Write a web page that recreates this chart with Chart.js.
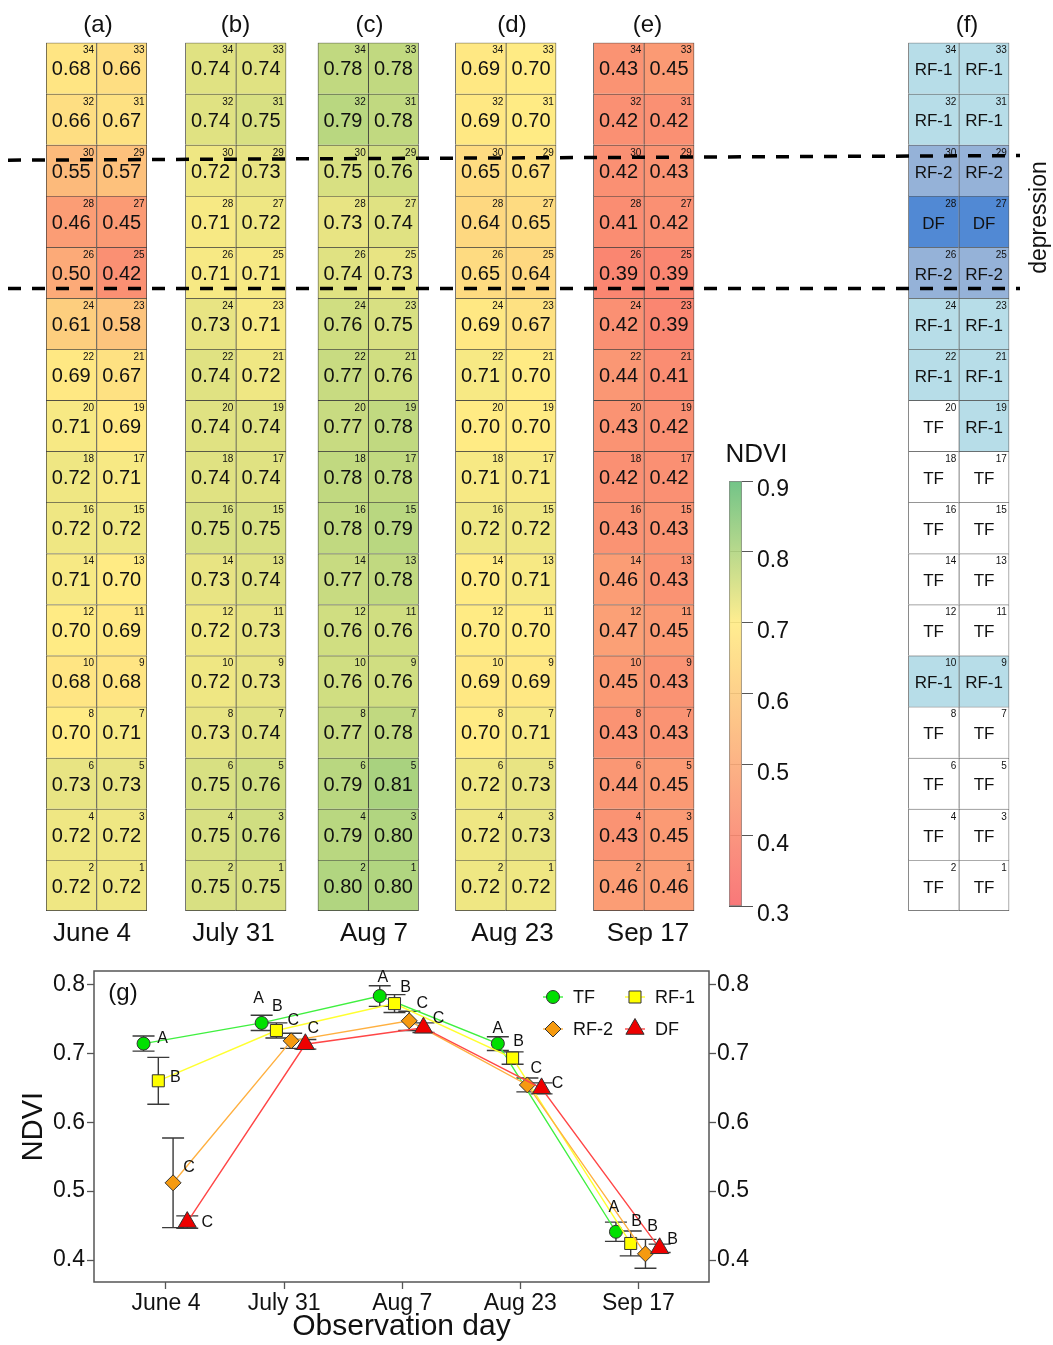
<!DOCTYPE html>
<html lang="en">
<head>
<meta charset="utf-8">
<title>NDVI by plot and observation day</title>
<script src="https://cdn.jsdelivr.net/npm/chart.js@4.4.1/dist/chart.umd.min.js"></script>
<style>
  html, body { margin: 0; padding: 0; background: #fff; }
  #figure { position: relative; width: 1053px; height: 1345px; overflow: hidden; background: #fff; }
  #figure canvas { position: absolute; }
</style>
</head>
<body>
<div id="figure"></div>
<script>
// ---------------- data ----------------
const days = ['June 4', 'July 31', 'Aug 7', 'Aug 23', 'Sep 17'];
const panelTags = ['(a)', '(b)', '(c)', '(d)', '(e)', '(f)'];
const plotNoLeft  = [34, 32, 30, 28, 26, 24, 22, 20, 18, 16, 14, 12, 10, 8, 6, 4, 2];
const plotNoRight = [33, 31, 29, 27, 25, 23, 21, 19, 17, 15, 13, 11, 9, 7, 5, 3, 1];

// NDVI per plot, rows from plots 34/33 (top) down to 2/1 (bottom), [left, right]
const ndviJune4  = [[0.68,0.66],[0.66,0.67],[0.55,0.57],[0.46,0.45],[0.50,0.42],[0.61,0.58],[0.69,0.67],[0.71,0.69],[0.72,0.71],[0.72,0.72],[0.71,0.70],[0.70,0.69],[0.68,0.68],[0.70,0.71],[0.73,0.73],[0.72,0.72],[0.72,0.72]];
const ndviJuly31 = [[0.74,0.74],[0.74,0.75],[0.72,0.73],[0.71,0.72],[0.71,0.71],[0.73,0.71],[0.74,0.72],[0.74,0.74],[0.74,0.74],[0.75,0.75],[0.73,0.74],[0.72,0.73],[0.72,0.73],[0.73,0.74],[0.75,0.76],[0.75,0.76],[0.75,0.75]];
const ndviAug7   = [[0.78,0.78],[0.79,0.78],[0.75,0.76],[0.73,0.74],[0.74,0.73],[0.76,0.75],[0.77,0.76],[0.77,0.78],[0.78,0.78],[0.78,0.79],[0.77,0.78],[0.76,0.76],[0.76,0.76],[0.77,0.78],[0.79,0.81],[0.79,0.80],[0.80,0.80]];
const ndviAug23  = [[0.69,0.70],[0.69,0.70],[0.65,0.67],[0.64,0.65],[0.65,0.64],[0.69,0.67],[0.71,0.70],[0.70,0.70],[0.71,0.71],[0.72,0.72],[0.70,0.71],[0.70,0.70],[0.69,0.69],[0.70,0.71],[0.72,0.73],[0.72,0.73],[0.72,0.72]];
const ndviSep17  = [[0.43,0.45],[0.42,0.42],[0.42,0.43],[0.41,0.42],[0.39,0.39],[0.42,0.39],[0.44,0.41],[0.43,0.42],[0.42,0.42],[0.43,0.43],[0.46,0.43],[0.47,0.45],[0.45,0.43],[0.43,0.43],[0.44,0.45],[0.43,0.45],[0.46,0.46]];
const forestType = [['RF-1','RF-1'],['RF-1','RF-1'],['RF-2','RF-2'],['DF','DF'],['RF-2','RF-2'],['RF-1','RF-1'],['RF-1','RF-1'],['TF','RF-1'],['TF','TF'],['TF','TF'],['TF','TF'],['TF','TF'],['RF-1','RF-1'],['TF','TF'],['TF','TF'],['TF','TF'],['TF','TF']];

// depression edges in plot-row units from the bottom of the grid (left end, right end)
const depressionUpper = [14.70, 14.79];
const depressionLower = [12.19, 12.19];

const colorbarTicks = [0.3, 0.4, 0.5, 0.6, 0.7, 0.8, 0.9];

// (g) mean NDVI, error and significance group per forest type
const seriesNames = ['TF', 'RF-1', 'RF-2', 'DF'];
const meanTF  = [0.714, 0.744, 0.783, 0.714, 0.441];
const meanRF1 = [0.660, 0.733, 0.772, 0.693, 0.424];
const meanRF2 = [0.512, 0.718, 0.747, 0.654, 0.409];
const meanDF  = [0.455, 0.713, 0.737, 0.649, 0.417];
const errTF   = [0.011, 0.011, 0.015, 0.010, 0.014];
const errRF1  = [0.034, 0.011, 0.013, 0.009, 0.018];
const errRF2  = [0.065, 0.011, 0.014, 0.010, 0.021];
const errDF   = [0.009, 0.007, 0.007, 0.008, 0.006];
const groupTF  = ['A', 'A', 'A', 'A', 'A'];
const groupRF1 = ['B', 'B', 'B', 'B', 'B'];
const groupRF2 = ['C', 'C', 'C', 'C', 'B'];
const groupDF  = ['C', 'C', 'C', 'C', 'B'];

// ---------------- layout & style ----------------
const FONT = '"Liberation Sans", Arial, Helvetica, sans-serif';
Chart.defaults.font.family = FONT;
Chart.defaults.color = '#111';
Chart.defaults.animation = false;

const ROWS = plotNoLeft.length;
const GRID_TOP = 42.7, GRID_BOTTOM = 911, GRID_W = 101;
const panelLeft = [46, 185.3, 317.7, 455.3, 593.3, 908.3];
const tagX  = [98, 235.5, 369.5, 512, 647.5, 967];
const dateX = [92, 233.5, 374, 512.5, 648];
const typeColor = { 'TF': '#ffffff', 'RF-1': '#b7dde8', 'RF-2': '#95b2d8', 'DF': '#5189d4' };

const NDVI_STOPS = [[0.3, [248, 105, 107]], [0.7, [255, 235, 132]], [0.9, [99, 190, 123]]];
function ndviRGB(v) {
  v = Math.max(0.3, Math.min(0.9, v));
  for (let i = 0; i < NDVI_STOPS.length - 1; i++) {
    const [a, ca] = NDVI_STOPS[i], [b, cb] = NDVI_STOPS[i + 1];
    if (v <= b) {
      const t = (v - a) / (b - a);
      return ca.map((c, k) => Math.round(c + (cb[k] - c) * t));
    }
  }
  return NDVI_STOPS[NDVI_STOPS.length - 1][1];
}
const ndviColor = v => `rgb(${ndviRGB(v).join(',')})`;

const figure = document.getElementById('figure');
function addCanvas(left, top, w, h) {
  const c = document.createElement('canvas');
  c.width = w; c.height = h;
  c.style.left = left + 'px'; c.style.top = top + 'px';
  c.style.width = w + 'px'; c.style.height = h + 'px';
  figure.appendChild(c);
  return c;
}

// ---------------- plot grids (a)-(f) ----------------
const cellText = {
  id: 'cellText',
  afterDatasetsDraw(chart, args, opts) {
    const ctx = chart.ctx;
    ctx.save();
    ctx.fillStyle = '#111';
    chart.data.datasets.forEach((ds, di) => {
      chart.getDatasetMeta(di).data.forEach((bar, i) => {
        const p = bar.getProps(['x', 'y', 'base', 'width'], true);
        const top = Math.min(p.y, p.base), bottom = Math.max(p.y, p.base);
        const cy = (top + bottom) / 2;
        ctx.font = `${opts.size}px ${FONT}`;
        ctx.textAlign = 'center';
        ctx.textBaseline = 'alphabetic';
        ctx.fillText(ds.cellLabels[i], p.x, cy + opts.size * 0.36 + opts.dy);
        ctx.font = `10px ${FONT}`;
        ctx.textAlign = 'right';
        ctx.textBaseline = 'top';
        ctx.fillText(String(ds.plotNos[i]), p.x + p.width / 2 - 2.5, top + 3);
      });
    });
    ctx.restore();
  }
};

function makeGrid(idx, cells, fill, fmt, textOpts, lineColor) {
  const left = panelLeft[idx];
  const cLeft = Math.floor(left) - 2, cTop = 40, cW = 106, cH = 876;
  const padL = left - cLeft;
  const datasets = cells.map((pair, r) => {
    const lo = ROWS - 1 - r;
    return {
      data: pair.map(() => [lo, lo + 1]),
      cellLabels: pair.map(fmt),
      plotNos: [plotNoLeft[r], plotNoRight[r]],
      backgroundColor: pair.map(fill),
      borderColor: lineColor,
      borderWidth: [
        { top: 1, left: 1, right: 0, bottom: lo === 0 ? 1 : 0 },
        { top: 1, left: 1, right: 1, bottom: lo === 0 ? 1 : 0 }
      ],
      borderSkipped: false,
      categoryPercentage: 1,
      barPercentage: 1
    };
  });
  new Chart(addCanvas(cLeft, cTop, cW, cH), {
    type: 'bar',
    data: { labels: ['left', 'right'], datasets },
    options: {
      responsive: false,
      animation: false,
      layout: { padding: { left: padL, right: cW - padL - GRID_W, top: GRID_TOP - cTop, bottom: cTop + cH - GRID_BOTTOM } },
      plugins: { legend: { display: false }, tooltip: { enabled: false }, cellText: textOpts },
      scales: {
        x: { display: false, stacked: true },
        y: { display: false, min: 0, max: ROWS }
      }
    },
    plugins: [cellText]
  });
}

[ndviJune4, ndviJuly31, ndviAug7, ndviAug23, ndviSep17].forEach((cells, i) =>
  makeGrid(i, cells, ndviColor, v => v.toFixed(2), { size: 20, dy: 0 }, '#3a3a3a'));
makeGrid(5, forestType, t => typeColor[t], t => t, { size: 17, dy: 1 }, '#555');

// ---------------- colour bar ----------------
new Chart(addCanvas(700, 440, 120, 500), {
  type: 'bar',
  data: {
    labels: ['NDVI'],
    datasets: [{
      data: [[colorbarTicks[0], colorbarTicks[colorbarTicks.length - 1]]],
      backgroundColor: (c) => {
        const ch = c.chart;
        if (!ch.chartArea) return '#fff';
        const y = ch.scales.y;
        const lo = colorbarTicks[0], hi = colorbarTicks[colorbarTicks.length - 1];
        const g = ch.ctx.createLinearGradient(0, y.getPixelForValue(lo), 0, y.getPixelForValue(hi));
        for (let k = 0; k <= 30; k++) {
          const v = lo + (hi - lo) * k / 30;
          g.addColorStop(k / 30, `rgba(${ndviRGB(v).join(',')},0.9)`);
        }
        return g;
      },
      borderColor: '#8a8a8a',
      borderWidth: 1,
      borderSkipped: false,
      categoryPercentage: 1,
      barPercentage: 1
    }]
  },
  options: {
    responsive: false,
    animation: false,
    layout: { padding: { left: 29, right: 0, top: 41, bottom: 34 } },
    plugins: { legend: { display: false }, tooltip: { enabled: false } },
    scales: {
      x: { display: false },
      y: {
        position: 'right',
        min: colorbarTicks[0], max: colorbarTicks[colorbarTicks.length - 1],
        z: 1,
        afterBuildTicks: s => { s.ticks = colorbarTicks.map(v => ({ value: v })); },
        afterFit: s => { s.width = 78; },
        ticks: { callback: v => v.toFixed(1), font: { size: 23 }, color: '#111', padding: 4, labelOffset: 9 },
        grid: { drawOnChartArea: true, color: '#555', lineWidth: 1, tickLength: 11 },
        border: { display: false }
      }
    }
  }
});

// ---------------- dashed depression lines and panel texts ----------------
const figureText = {
  id: 'figureText',
  afterDraw(chart) {
    const ctx = chart.ctx;
    ctx.save();
    ctx.fillStyle = '#111';
    ctx.textAlign = 'center';
    ctx.textBaseline = 'alphabetic';
    ctx.font = `24px ${FONT}`;
    panelTags.forEach((t, i) => ctx.fillText(t, tagX[i], 32));
    ctx.font = `26px ${FONT}`;
    days.forEach((d, i) => ctx.fillText(d, dateX[i], 941));
    ctx.font = `26px ${FONT}`;
    ctx.fillText('NDVI', 756.5, 461.5);
    ctx.translate(1046, 217.5);
    ctx.rotate(-Math.PI / 2);
    ctx.font = `23px ${FONT}`;
    ctx.fillText('depression', 0, 0);
    ctx.restore();
  }
};

const dashStyle = { borderColor: '#000', borderWidth: 3.5, borderDash: [13, 11], pointRadius: 0, fill: false };
new Chart(addCanvas(0, 0, 1053, 945), {
  type: 'line',
  data: {
    datasets: [
      Object.assign({ data: depressionUpper.map((y, i) => ({ x: i, y })) }, dashStyle),
      Object.assign({ data: depressionLower.map((y, i) => ({ x: i, y })) }, dashStyle)
    ]
  },
  options: {
    responsive: false,
    animation: false,
    layout: { padding: { left: 8, right: 33, top: GRID_TOP, bottom: 945 - GRID_BOTTOM } },
    plugins: { legend: { display: false }, tooltip: { enabled: false } },
    scales: {
      x: { type: 'linear', display: false, min: 0, max: 1 },
      y: { display: false, min: 0, max: ROWS }
    }
  },
  plugins: [figureText]
});

// ---------------- (g) NDVI time course ----------------
const means  = [meanTF, meanRF1, meanRF2, meanDF];
const errors = [errTF, errRF1, errRF2, errDF];
const groups = [groupTF, groupRF1, groupRF2, groupDF];
const dodge  = [-0.19, -0.065, 0.06, 0.18];
const lineColor  = ['#3ff03f', '#ffff30', '#ffb040', '#ff4646'];
const fillColor  = ['#00e000', '#ffff00', '#f59a10', '#ee0000'];
const markers    = ['circle', 'rect', 'rectRot', 'triangle'];
const markerSize = [6.5, 8.5, 8, 10.5];
const letterOffsets = [
  [[19, -5], [-3, -24], [3, -18], [0, -15], [-2, -24]],
  [[17, -3], [1, -24], [11, -16], [6, -16], [6, -22]],
  [[16, -15], [2, -20], [13, -17], [9, -16], [7, -27]],
  [[20, 0], [8, -16], [15, -9], [16, -5], [13, -9]]
];
const yTicks = [0.4, 0.5, 0.6, 0.7, 0.8];

const frameAndTag = {
  id: 'frameAndTag',
  beforeDatasetsDraw(chart) {
    const { ctx, chartArea: a } = chart;
    ctx.save();
    ctx.strokeStyle = '#555';
    ctx.lineWidth = 1.5;
    ctx.strokeRect(a.left, a.top, a.right - a.left, a.bottom - a.top);
    ctx.fillStyle = '#111';
    ctx.font = `24px ${FONT}`;
    ctx.textAlign = 'center';
    ctx.textBaseline = 'alphabetic';
    ctx.fillText('(g)', a.left + 29, a.top + 29);
    ctx.restore();
  }
};

const errorBars = {
  id: 'errorBars',
  beforeDatasetsDraw(chart) {
    const { ctx, scales: { y } } = chart;
    ctx.save();
    ctx.strokeStyle = '#3a3a3a';
    ctx.lineWidth = 1.4;
    chart.data.datasets.forEach((ds, i) => {
      chart.getDatasetMeta(i).data.forEach((pt, j) => {
        const v = ds.data[j].y, e = ds.errors[j];
        const yt = y.getPixelForValue(v + e), yb = y.getPixelForValue(v - e);
        ctx.beginPath();
        ctx.moveTo(pt.x, yt); ctx.lineTo(pt.x, yb);
        ctx.moveTo(pt.x - 11, yt); ctx.lineTo(pt.x + 11, yt);
        ctx.moveTo(pt.x - 11, yb); ctx.lineTo(pt.x + 11, yb);
        ctx.stroke();
      });
    });
    ctx.restore();
  }
};

const groupLetters = {
  id: 'groupLetters',
  afterDatasetsDraw(chart) {
    const ctx = chart.ctx;
    ctx.save();
    ctx.fillStyle = '#111';
    ctx.font = `16px ${FONT}`;
    ctx.textAlign = 'center';
    ctx.textBaseline = 'middle';
    chart.data.datasets.forEach((ds, i) => {
      chart.getDatasetMeta(i).data.forEach((pt, j) => {
        const [dx, dy] = letterOffsets[i][j];
        ctx.fillText(ds.groups[j], pt.x + dx, pt.y + dy);
      });
    });
    ctx.restore();
  }
};

const legendGrid = {
  id: 'legendGrid',
  afterDatasetsDraw(chart) {
    const { ctx, chartArea: a } = chart;
    const cols = [a.right - 156, a.right - 74];
    const rows = [a.top + 26, a.top + 58];
    chart.data.datasets.forEach((ds, i) => {
      const x = cols[i % 2], y = rows[Math.floor(i / 2)];
      ctx.save();
      ctx.strokeStyle = ds.borderColor;
      ctx.lineWidth = ds.borderWidth;
      ctx.beginPath(); ctx.moveTo(x - 10, y); ctx.lineTo(x + 10, y); ctx.stroke();
      ctx.fillStyle = ds.pointBackgroundColor;
      ctx.strokeStyle = ds.pointBorderColor;
      ctx.lineWidth = ds.pointBorderWidth;
      Chart.helpers.drawPoint(ctx, { pointStyle: ds.pointStyle, radius: ds.pointRadius, borderWidth: ds.pointBorderWidth, rotation: 0 }, x, y);
      ctx.fillStyle = '#111';
      ctx.font = `18px ${FONT}`;
      ctx.textAlign = 'left';
      ctx.textBaseline = 'middle';
      ctx.fillText(ds.label, x + 20, y + 1);
      ctx.restore();
    });
  }
};

const yAxis = (position, width, title) => ({
  position,
  min: 0.3681, max: 0.8193,
  afterBuildTicks: s => { s.ticks = yTicks.map(v => ({ value: v })); },
  afterFit: s => { s.width = width; },
  ticks: { callback: v => v.toFixed(1), font: { size: 23 }, color: '#111', padding: position === 'left' ? 2 : 1 },
  grid: { drawOnChartArea: false, drawTicks: true, tickLength: 7, tickColor: '#555', tickWidth: 1.3 },
  border: { display: false },
  title: title ? { display: true, text: title, font: { size: 29 }, color: '#111', padding: { top: 17, bottom: 0 } } : { display: false }
});

new Chart(addCanvas(0, 945, 1053, 400), {
  type: 'line',
  data: {
    datasets: seriesNames.map((name, i) => ({
      label: name,
      data: means[i].map((v, j) => ({ x: j + 1 + dodge[i], y: v })),
      errors: errors[i],
      groups: groups[i],
      borderColor: lineColor[i],
      borderWidth: 1.4,
      pointStyle: markers[i],
      pointRadius: markerSize[i],
      pointBackgroundColor: fillColor[i],
      pointBorderColor: '#333',
      pointBorderWidth: 1,
      tension: 0,
      fill: false,
      order: seriesNames.length - i
    }))
  },
  options: {
    responsive: false,
    animation: false,
    layout: { padding: { left: 0, right: 1053 - 709 - 50, top: 26, bottom: 0 } },
    plugins: { legend: { display: false }, tooltip: { enabled: false } },
    scales: {
      x: {
        type: 'linear',
        min: 0.3904, max: 5.598,
        afterBuildTicks: s => { s.ticks = days.map((d, i) => ({ value: i + 1 })); },
        afterFit: s => { s.height = 63; },
        ticks: { callback: v => days[Math.round(v) - 1], font: { size: 23 }, color: '#111', padding: 1, autoSkip: false, maxRotation: 0 },
        grid: { drawOnChartArea: false, drawTicks: true, tickLength: 7, tickColor: '#555', tickWidth: 1.3 },
        border: { display: false },
        title: { display: true, text: 'Observation day', font: { size: 30 }, color: '#111', padding: { top: 0, bottom: 0 } }
      },
      y: yAxis('left', 94, 'NDVI'),
      y2: yAxis('right', 50, null)
    }
  },
  plugins: [frameAndTag, errorBars, groupLetters, legendGrid]
});
</script>
</body>
</html>
